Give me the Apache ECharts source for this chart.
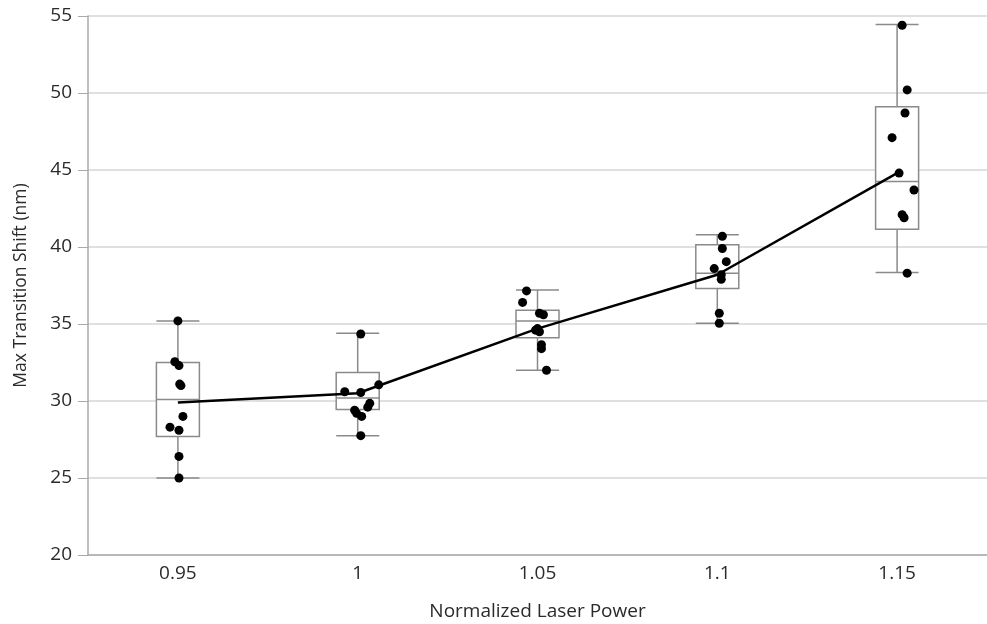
<!DOCTYPE html>
<html>
<head>
    <meta charset="utf-8">
    <title>laser power</title>
    <style type="text/css">
        * { margin: 0; padding: 0; }
        #chart { width: 987px; height: 624px; background: #fff; }
    </style>
</head>
<body>
<div id="chart"></div>
<script src="https://cdn.jsdelivr.net/npm/echarts@6/dist/echarts.min.js"></script>
<script type="text/javascript">

    // x categories
    let categories = ['0.95', '1', '1.05', '1.1', '1.15'];

    // box stats per category: [min, Q1, median, Q3, max]
    let boxStats = [
        [25.0, 27.7, 30.1, 32.5, 35.2],
        [27.75, 29.45, 30.2, 31.85, 34.4],
        [32.0, 34.1, 35.2, 35.9, 37.2],
        [35.05, 37.3, 38.3, 40.15, 40.8],
        [38.35, 41.15, 44.25, 49.1, 54.45]
    ];

    // mean line
    let meanValues = [29.9, 30.5, 34.7, 38.2, 44.8];

    // individual points: category index, jitter (category units), value
    let pointGroup = [
        0, 0, 0, 0, 0, 0, 0, 0, 0, 0,
        1, 1, 1, 1, 1, 1, 1, 1, 1, 1,
        2, 2, 2, 2, 2, 2, 2, 2, 2, 2,
        3, 3, 3, 3, 3, 3, 3, 3,
        4, 4, 4, 4, 4, 4, 4, 4, 4
    ];
    let pointJitter = [
        0, -0.017, 0.006, 0.01, 0.017, 0.028, -0.044, 0.006, 0.006, 0.006,
        0.017, -0.072, 0.017, 0.117, 0.067, 0.056, -0.017, -0.006, 0.022, 0.017,
        -0.061, -0.083, 0.011, 0.033, 0, 0.011, -0.011, 0.022, 0.022, 0.05,
        0.028, 0.028, 0.05, -0.017, 0.022, 0.022, 0.011, 0.011,
        0.028, 0.056, 0.044, -0.028, 0.011, 0.094, 0.028, 0.039, 0.056
    ];
    let pointValues = [
        35.2, 32.55, 32.3, 31.1, 31.0, 29.0, 28.3, 28.1, 26.4, 25.0,
        34.35, 30.6, 30.55, 31.05, 29.85, 29.6, 29.4, 29.2, 29.0, 27.75,
        37.15, 36.4, 35.7, 35.6, 34.7, 34.5, 34.6, 33.65, 33.4, 32.0,
        40.7, 39.9, 39.05, 38.6, 38.2, 37.9, 35.7, 35.05,
        54.4, 50.2, 48.7, 47.1, 44.8, 43.7, 42.1, 41.9, 38.3
    ];

    let yTicks = [20, 25, 30, 35, 40, 45, 50, 55];

    let points = pointValues.map(function (v, i) {
        return [pointGroup[i] + pointJitter[i], v];
    });

    let fontFamily = '"Open Sans", "Noto Sans", sans-serif';

    var myChart = echarts.init(document.getElementById('chart'));

    var option = {
        animation: false,
        grid: {
            left: 88,
            right: 0,
            top: 16,
            bottom: 69,
            containLabel: false,
            outerBoundsMode: 'none'
        },
        xAxis: [
            {
                type: 'category',
                data: categories,
                name: 'Normalized Laser Power',
                nameLocation: 'middle',
                nameGap: 47,
                nameTextStyle: { fontFamily: fontFamily, fontSize: 19, color: '#2a2a2a' },
                axisLine: { lineStyle: { color: '#aaaaaa', width: 1.5 } },
                axisTick: { show: false },
                axisLabel: { fontFamily: fontFamily, fontSize: 19, color: '#2a2a2a', margin: 9 }
            },
            {
                type: 'value',
                min: -0.5,
                max: 4.5,
                show: false
            }
        ],
        yAxis: {
            type: 'value',
            min: yTicks[0],
            max: yTicks[yTicks.length - 1],
            interval: 5,
            name: 'Max Transition Shift (nm)',
            nameLocation: 'middle',
            nameGap: 58,
            nameTextStyle: { fontFamily: fontFamily, fontSize: 17.5, color: '#2a2a2a' },
            axisLine: { show: true, onZero: false, lineStyle: { color: '#aaaaaa', width: 1.5 } },
            axisTick: { show: true, length: 10, lineStyle: { color: '#aaaaaa' } },
            axisLabel: { fontFamily: fontFamily, fontSize: 19, color: '#2a2a2a', margin: 16 },
            splitLine: { lineStyle: { color: '#d6d6d6', width: 1.5 } }
        },
        series: [
            {
                type: 'boxplot',
                xAxisIndex: 0,
                data: boxStats,
                boxWidth: [43, 43],
                itemStyle: {
                    color: '#ffffff',
                    borderColor: '#8a8a8a',
                    borderWidth: 1.5
                },
                z: 2
            },
            {
                type: 'line',
                xAxisIndex: 0,
                data: meanValues,
                symbol: 'none',
                lineStyle: { color: '#000000', width: 2.5 },
                z: 3
            },
            {
                type: 'scatter',
                xAxisIndex: 1,
                data: points,
                symbolSize: 9,
                itemStyle: { color: '#000000', opacity: 1 },
                z: 4
            }
        ]
    };

    myChart.setOption(option);
</script>
</body>
</html>
